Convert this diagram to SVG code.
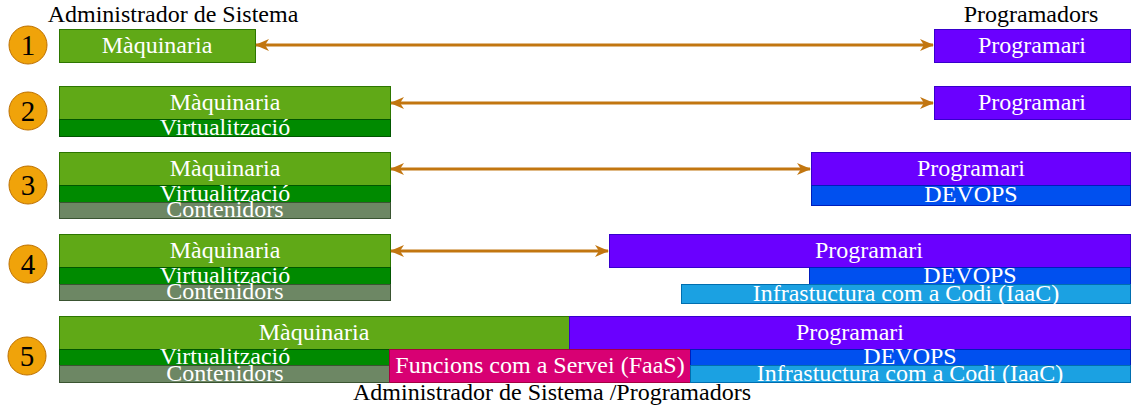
<svg xmlns="http://www.w3.org/2000/svg" width="1131" height="409" viewBox="0 0 1131 409">
<style>
text{font-family:"Liberation Serif","Times New Roman",serif;font-size:24px;text-anchor:middle}
.w{fill:#ffffff}
.k{fill:#000000}
.n{font-size:29px}
.maq{fill:#60a917;stroke:#2d7600;stroke-width:1}
.vir{fill:#008a00;stroke:#005700;stroke-width:1}
.con{fill:#6d8764;stroke:#3a5431;stroke-width:1}
.prg{fill:#6a00ff;stroke:#3700cc;stroke-width:1}
.dev{fill:#0050ef;stroke:#001dbc;stroke-width:1}
.iac{fill:#1ba1e2;stroke:#006eaf;stroke-width:1}
.faas{fill:#d80073;stroke:#a50040;stroke-width:1}
.num{fill:#f0a30a;stroke:#bd7000;stroke-width:1}
.arr{stroke:#c27610;stroke-width:3;fill:none}
</style>
<defs>
<marker id="ah" viewBox="0 0 14 12" refX="13" refY="6" markerWidth="14" markerHeight="12" orient="auto-start-reverse" markerUnits="userSpaceOnUse">
<path d="M0,0 L14,6 L0,12 L4,6 z" fill="#c27610"/>
</marker>
</defs>
<g id="labels">
<text class="k" x="173" y="22">Administrador de Sistema</text>
<text class="k" x="1031" y="22">Programadors</text>
<text class="k" x="552" y="400">Administrador de Sistema /Programadors</text>
</g>
<g id="steps">
<g id="n1"><circle class="num" cx="28" cy="45" r="19"/><text class="k n" x="28" y="55">1</text></g>
<g id="n2"><circle class="num" cx="28" cy="111" r="19"/><text class="k n" x="28" y="121">2</text></g>
<g id="n3"><circle class="num" cx="28" cy="185" r="19"/><text class="k n" x="28" y="195">3</text></g>
<g id="n4"><circle class="num" cx="28" cy="264" r="19"/><text class="k n" x="28" y="274">4</text></g>
<g id="n5"><circle class="num" cx="27" cy="356" r="19"/><text class="k n" x="27" y="366">5</text></g>
</g>
<g id="row1">
<g id="r1maq"><rect class="maq" x="59.5" y="29.5" width="196" height="33"/><text class="w" x="157" y="53">Màquinaria</text></g>
<g id="r1prg"><rect class="prg" x="934.5" y="29.5" width="196" height="33"/><text class="w" x="1032" y="53">Programari</text></g>
</g>
<g id="row2">
<g id="r2maq"><rect class="maq" x="59.5" y="86.5" width="331" height="33"/><text class="w" x="225" y="110">Màquinaria</text></g>
<g id="r2vir"><rect class="vir" x="59.5" y="119.5" width="331" height="17"/><text class="w" x="225" y="135">Virtualització</text></g>
<g id="r2prg"><rect class="prg" x="934.5" y="86.5" width="196" height="33"/><text class="w" x="1032" y="110">Programari</text></g>
</g>
<g id="row3">
<g id="r3maq"><rect class="maq" x="59.5" y="152.5" width="331" height="33"/><text class="w" x="225" y="176">Màquinaria</text></g>
<g id="r3vir"><rect class="vir" x="59.5" y="185.5" width="331" height="17"/><text class="w" x="225" y="201">Virtualització</text></g>
<g id="r3con"><rect class="con" x="59.5" y="202.5" width="331" height="16"/><text class="w" x="225" y="217">Contenidors</text></g>
<g id="r3prg"><rect class="prg" x="811.5" y="152.5" width="319" height="33"/><text class="w" x="971" y="176">Programari</text></g>
<g id="r3dev"><rect class="dev" x="811.5" y="185.5" width="319" height="20"/><text class="w" x="971" y="202">DEVOPS</text></g>
</g>
<g id="row4">
<g id="r4maq"><rect class="maq" x="59.5" y="234.5" width="331" height="33"/><text class="w" x="225" y="258">Màquinaria</text></g>
<g id="r4vir"><rect class="vir" x="59.5" y="267.5" width="331" height="17"/><text class="w" x="225" y="283">Virtualització</text></g>
<g id="r4con"><rect class="con" x="59.5" y="284.5" width="331" height="16"/><text class="w" x="225" y="299">Contenidors</text></g>
<g id="r4prg"><rect class="prg" x="609.5" y="234.5" width="521" height="33"/><text class="w" x="869" y="258">Programari</text></g>
<g id="r4dev"><rect class="dev" x="809.5" y="267.5" width="321" height="17"/><text class="w" x="970" y="283">DEVOPS</text></g>
<g id="r4iac"><rect class="iac" x="681.5" y="284.5" width="449" height="19"/><text class="w" x="906" y="301">Infrastuctura com a Codi (IaaC)</text></g>
</g>
<g id="row5">
<g id="r5maq"><rect class="maq" x="59.5" y="316.5" width="510" height="33"/><text class="w" x="314" y="340">Màquinaria</text></g>
<g id="r5prg"><rect class="prg" x="569.5" y="316.5" width="561" height="33"/><text class="w" x="850" y="340">Programari</text></g>
<g id="r5vir"><rect class="vir" x="59.5" y="349.5" width="330" height="16"/><text class="w" x="225" y="364">Virtualització</text></g>
<g id="r5con"><rect class="con" x="59.5" y="365.5" width="330" height="17"/><text class="w" x="225" y="381">Contenidors</text></g>
<g id="r5faas"><rect class="faas" x="389.5" y="349.5" width="301" height="33"/><text class="w" x="540" y="373">Funcions com a Servei (FaaS)</text></g>
<g id="r5dev"><rect class="dev" x="690.5" y="349.5" width="440" height="16"/><text class="w" x="910" y="364">DEVOPS</text></g>
<g id="r5iac"><rect class="iac" x="690.5" y="365.5" width="440" height="17"/><text class="w" x="910" y="381">Infrastuctura com a Codi (IaaC)</text></g>
</g>
<g id="connectors">
<line class="arr" x1="256" y1="45" x2="933" y2="45" marker-start="url(#ah)" marker-end="url(#ah)"/>
<line class="arr" x1="391" y1="103" x2="933" y2="103" marker-start="url(#ah)" marker-end="url(#ah)"/>
<line class="arr" x1="391" y1="169" x2="810" y2="169" marker-start="url(#ah)" marker-end="url(#ah)"/>
<line class="arr" x1="391" y1="251" x2="608" y2="251" marker-start="url(#ah)" marker-end="url(#ah)"/>
</g>
</svg>
